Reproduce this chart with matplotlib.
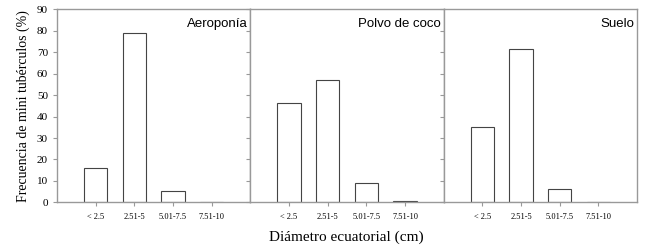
import matplotlib.pyplot as plt
import numpy as np

categories = ['< 2.5', '2.51-5', '5.01-7.5', '7.51-10']
panels = ['Aeroponía', 'Polvo de coco', 'Suelo']
aeroponia = [16, 79, 5.4, 0]
polvo_coco = [46.3, 57.1, 9, 0.6]
suelo = [35.2, 71.6, 6.1, 0]
yticks = [0, 10, 20, 30, 40, 50, 60, 70, 80, 90]

series = [aeroponia, polvo_coco, suelo]
serif = ['Liberation Serif', 'DejaVu Serif']
sans = ['Liberation Sans', 'DejaVu Sans']

fig, axes = plt.subplots(1, 3, figsize=(6.5, 2.48), dpi=100, sharey=True)
fig.subplots_adjust(left=0.0877, right=0.98, top=0.962, bottom=0.184, wspace=0)

x = np.arange(1, len(categories) + 1)
for i, (ax, name, vals) in enumerate(zip(axes, panels, series)):
    ax.bar(x, vals, width=0.6, color='white', edgecolor='#444444', linewidth=0.8)
    ax.set_xlim(0, 5)
    ax.set_ylim(0, 90)
    ax.set_xticks(x)
    ax.set_xticklabels(categories, family=serif, fontsize=6)
    ax.set_yticks(yticks)
    for s in ax.spines.values():
        s.set_color('#999999')
        s.set_linewidth(1.0)
    ax.tick_params(axis='both', direction='out', length=3, width=0.8, color='#999999')
    ax.tick_params(axis='x', pad=5)
    ax.text(0.985, 0.925, name, transform=ax.transAxes, ha='right', va='center',
            family=sans, fontsize=9.5)
    if i == 0:
        for lab in ax.get_yticklabels():
            lab.set_family(serif)
            lab.set_fontsize(8)
        ax.set_ylabel('Frecuencia de mini tubérculos (%)', family=serif, fontsize=10, labelpad=5)

fig.text(0.533, 0.043, 'Diámetro ecuatorial (cm)', ha='center', va='center',
         family=serif, fontsize=11)

plt.savefig('out.png')
